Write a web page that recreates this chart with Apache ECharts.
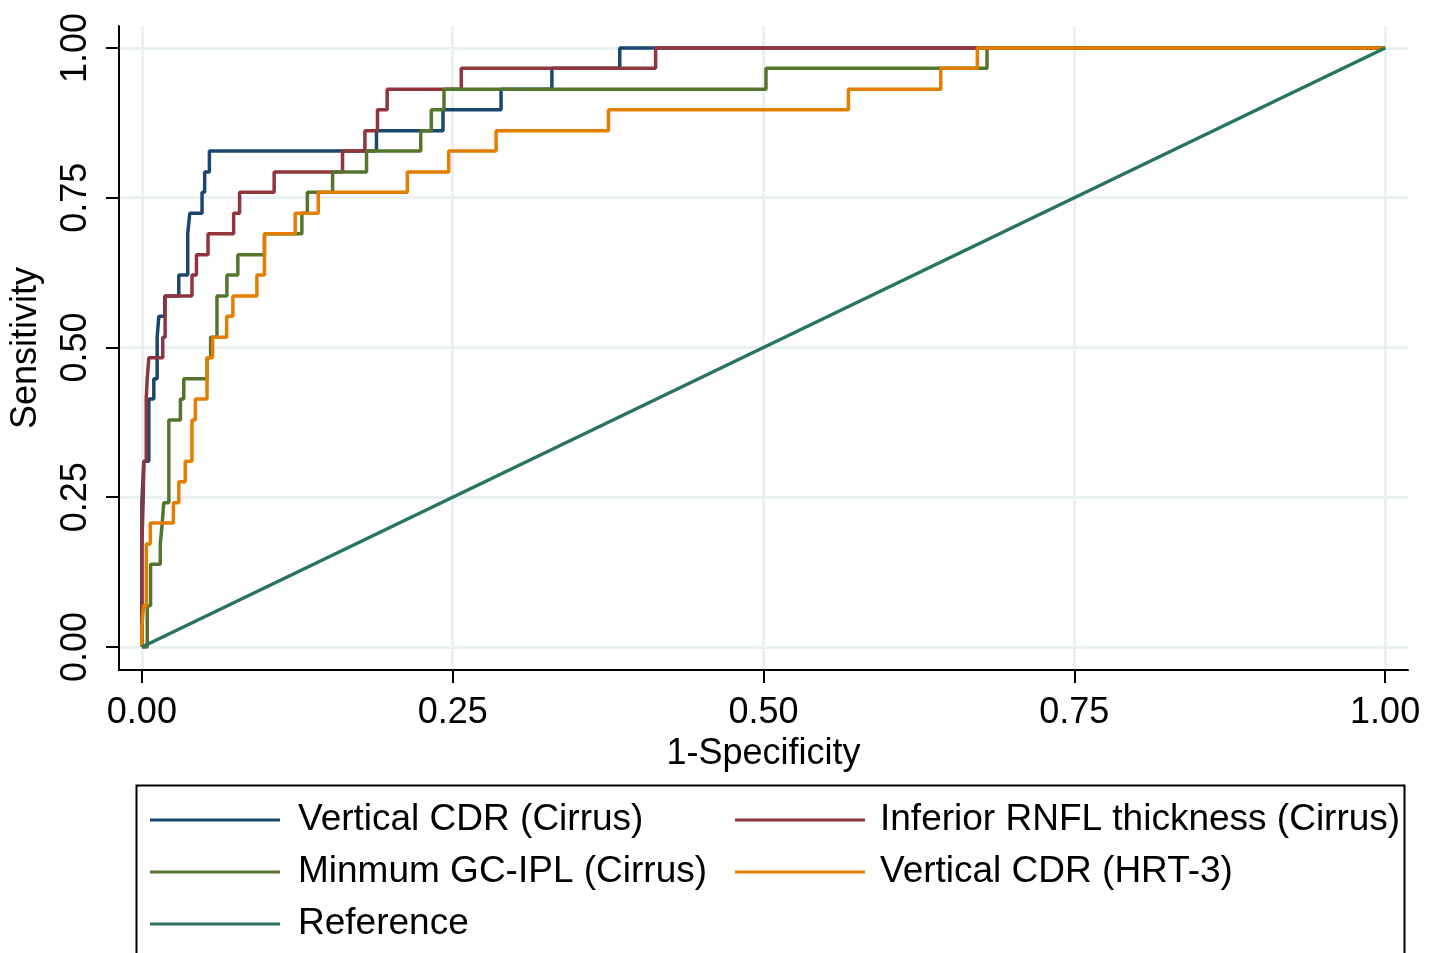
<!DOCTYPE html>
<html>
<head>
<meta charset="utf-8">
<script src="https://cdn.jsdelivr.net/npm/echarts@6/dist/echarts.min.js"></script>
<style>
html, body { margin: 0; padding: 0; background: #fff; }
#main { width: 1439px; height: 953px; }
</style>
</head>
<body>
<div id="main"></div>
<script>
// ROC curves: each point is where a curve steps up (1-specificity, sensitivity)
const cdrCirrusFpr = [0, 0, 0.0016, 0.0056, 0.0096, 0.0123, 0.0136, 0.0184, 0.0297, 0.0369, 0.0385, 0.0484, 0.0505, 0.0543, 0.1887, 0.2422, 0.2889, 0.3298, 0.3844, 1];
const cdrCirrusTpr = [0, 0.241, 0.310, 0.414, 0.448, 0.517, 0.552, 0.586, 0.621, 0.690, 0.724, 0.759, 0.793, 0.828, 0.862, 0.897, 0.931, 0.966, 1, 1];

const rnflFpr = [0, 0, 0.001, 0.0016, 0.0035, 0.0043, 0.0056, 0.0168, 0.0187, 0.0403, 0.0439, 0.0532, 0.0738, 0.0786, 0.1064, 0.1614, 0.1794, 0.1895, 0.1973, 0.2569, 0.4132, 1];
const rnflTpr = [0, 0.172, 0.241, 0.310, 0.414, 0.448, 0.483, 0.517, 0.586, 0.621, 0.655, 0.690, 0.724, 0.759, 0.793, 0.828, 0.862, 0.897, 0.931, 0.966, 1, 1];

const gciplFpr = [0, 0.0043, 0.007, 0.0148, 0.0164, 0.0176, 0.0217, 0.031, 0.0337, 0.0525, 0.0553, 0.0604, 0.0684, 0.0772, 0.0986, 0.1287, 0.1331, 0.1534, 0.1807, 0.2243, 0.2328, 0.243, 0.502, 0.6798, 1];
const gciplTpr = [0, 0.069, 0.138, 0.172, 0.207, 0.241, 0.379, 0.414, 0.448, 0.483, 0.517, 0.586, 0.621, 0.655, 0.690, 0.724, 0.759, 0.793, 0.828, 0.862, 0.897, 0.931, 0.966, 1, 1];

const cdrHrtFpr = [0, 0, 0.0014, 0.0036, 0.0068, 0.0253, 0.0297, 0.0349, 0.0403, 0.043, 0.0524, 0.0569, 0.0682, 0.0732, 0.0925, 0.0986, 0.1233, 0.1419, 0.2135, 0.2468, 0.2849, 0.3753, 0.5683, 0.6426, 0.672, 1];
const cdrHrtTpr = [0, 0.034, 0.069, 0.172, 0.207, 0.241, 0.276, 0.310, 0.379, 0.414, 0.483, 0.517, 0.552, 0.586, 0.621, 0.690, 0.724, 0.759, 0.793, 0.828, 0.862, 0.897, 0.931, 0.966, 1, 1];

const refFpr = [0, 1];
const refTpr = [0, 1];

const xTicks = [0, 0.25, 0.5, 0.75, 1];
const yTicks = [0, 0.25, 0.5, 0.75, 1];

const names = [
    "Vertical CDR (Cirrus)",
    "Inferior RNFL thickness (Cirrus)",
    "Minmum GC-IPL (Cirrus)",
    "Vertical CDR (HRT-3)",
    "Reference"
];
const colors = ["#1a476f", "#90353b", "#55752f", "#e37e00", "#2a7362"];

function pairs(xs, ys) {
    return xs.map((x, i) => [x, ys[i]]);
}

const curves = [
    pairs(cdrCirrusFpr, cdrCirrusTpr),
    pairs(rnflFpr, rnflTpr),
    pairs(gciplFpr, gciplTpr),
    pairs(cdrHrtFpr, cdrHrtTpr),
    pairs(refFpr, refTpr)
];

const font = "Liberation Sans, Arial, sans-serif";
const axisText = { color: "#000", fontSize: 36, fontFamily: font };

function legendAt(left, data, gap) {
    return {
        orient: "vertical",
        left: left,
        top: 800,
        padding: 0,
        icon: "rect",
        itemWidth: 130,
        itemHeight: 3,
        itemGap: 12,
        selectedMode: false,
        data: data,
        textStyle: { color: "#000", fontSize: 37, fontFamily: font, lineHeight: 40, padding: [0, 0, 0, gap] }
    };
}

const myChart = echarts.init(document.getElementById("main"));
myChart.setOption({
    animation: false,
    backgroundColor: "#fff",
    grid: { left: 115, right: 31, top: 26, bottom: 283 },
    xAxis: {
        type: "value",
        min: -0.0184,
        max: 1.0184,
        name: "1-Specificity",
        nameLocation: "middle",
        nameGap: 61,
        nameTextStyle: axisText,
        axisLine: { onZero: false, lineStyle: { color: "#000", width: 2 } },
        axisTick: { customValues: xTicks, length: 13, lineStyle: { color: "#000", width: 2 } },
        axisLabel: Object.assign({ customValues: xTicks, margin: 25, formatter: v => v.toFixed(2) }, axisText),
        splitLine: { show: true, lineStyle: { color: "#e9f1f3", width: 3 } }
    },
    yAxis: {
        type: "value",
        min: -0.0384,
        max: 1.0367,
        name: "Sensitivity",
        nameLocation: "middle",
        nameGap: 75,
        nameTextStyle: axisText,
        axisLine: { onZero: false, lineStyle: { color: "#000", width: 2 } },
        axisTick: { customValues: yTicks, length: 13, lineStyle: { color: "#000", width: 2 } },
        axisLabel: Object.assign({ customValues: yTicks, margin: 25, rotate: 90, formatter: v => v.toFixed(2) }, axisText),
        splitLine: { show: true, lineStyle: { color: "#e9f1f3", width: 3 } }
    },
    legend: [
        legendAt(150, [names[0], names[2], names[4]], 13),
        legendAt(735, [names[1], names[3]], 10)
    ],
    graphic: [{
        type: "rect",
        left: 134,
        top: 783,
        shape: { width: 1268, height: 200 },
        style: { fill: "none", stroke: "#000", lineWidth: 2 },
        z: 100
    }],
    series: curves.map((d, i) => ({
        name: names[i],
        type: "line",
        data: d,
        step: i < 4 ? "end" : false,
        symbol: "none",
        showSymbol: false,
        color: colors[i],
        lineStyle: { color: colors[i], width: 3.5 }
    }))
});
</script>
</body>
</html>
